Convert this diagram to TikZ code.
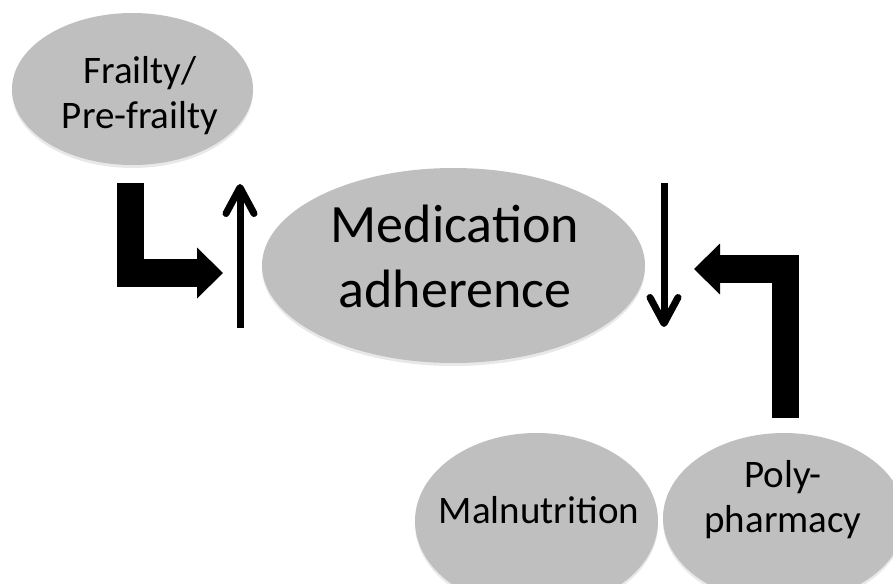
\documentclass[tikz,border=0pt]{standalone}
\usepackage{fontspec}
\setmainfont{Carlito}
\usepackage{xcolor}
\definecolor{bubbleGray}{HTML}{BFBFBF}
\usepackage{tikz}
\usetikzlibrary{shapes.geometric,arrows.meta,shadows}
\tikzset{
    bubble/.style={
        ellipse,
        fill=bubbleGray,
        draw=none,
        inner sep=0pt,
        drop shadow={opacity=0.18, shadow xshift=0pt, shadow yshift=-3pt}
    },
    bubbletext/.style={
        align=center,
        inner sep=0pt,
        font=\fontsize{39}{45}\selectfont
    },
    bigtext/.style={
        align=center,
        inner sep=0pt,
        font=\fontsize{54}{65}\selectfont
    },
    bentarrow/.style={
        line width=27.5pt,
        line join=miter,
        -{Triangle[length=26pt,width=51pt,line width=0pt]}
    },
    thinarrow/.style={
        line width=7pt,
        -{Straight Barb[length=26pt,width=28pt,round]}
    }
}
\begin{document}
\begin{tikzpicture}[x=1pt,y=-1pt]
    \useasboundingbox (0,0) rectangle (893,583);
    \clip (0,0) rectangle (893,583);

    % Ellipses
    \node[bubble, minimum width=241pt, minimum height=152pt] (frail) at (132.5,89) {};
    \node[bubble, minimum width=383pt, minimum height=195pt] (med) at (453.5,265.5) {};
    \node[bubble, minimum width=243pt, minimum height=176pt] (malnut) at (536.5,521) {};
    \node[bubble, minimum width=242pt, minimum height=170pt] (poly) at (784,518) {};

    % Texts
    \node[bubbletext] (frailtext) at (140,95.5) {Frailty/\\Pre-frailty};
    \node[bigtext] (medtext) at (455,256.5) {Medication\\adherence};
    \node[bubbletext, anchor=base] (malnuttext) at (539,523) {Malnutrition};
    \node[bubbletext] (polytext) at (783,500) {Poly-\\pharmacy};

    % Bent arrows
    \coordinate (frailstart) at (130.5,183);
    \coordinate (frailbend) at (130.5,273);
    \coordinate (frailtip) at (223,273);
    \draw[bentarrow] (frailstart) -- (frailbend) -- (frailtip);

    \coordinate (polystart) at (785.5,418);
    \coordinate (polybend) at (785.5,269);
    \coordinate (polytip) at (694,269);
    \draw[bentarrow] (polystart) -- (polybend) -- (polytip);

    % Up and down
    \coordinate (upfoot) at (240,328);
    \coordinate (uphead) at (240,184);
    \draw[thinarrow] (upfoot) -- (uphead);

    \coordinate (downtop) at (664,183);
    \coordinate (downhead) at (664,327);
    \draw[thinarrow] (downtop) -- (downhead);
\end{tikzpicture}
\end{document}
